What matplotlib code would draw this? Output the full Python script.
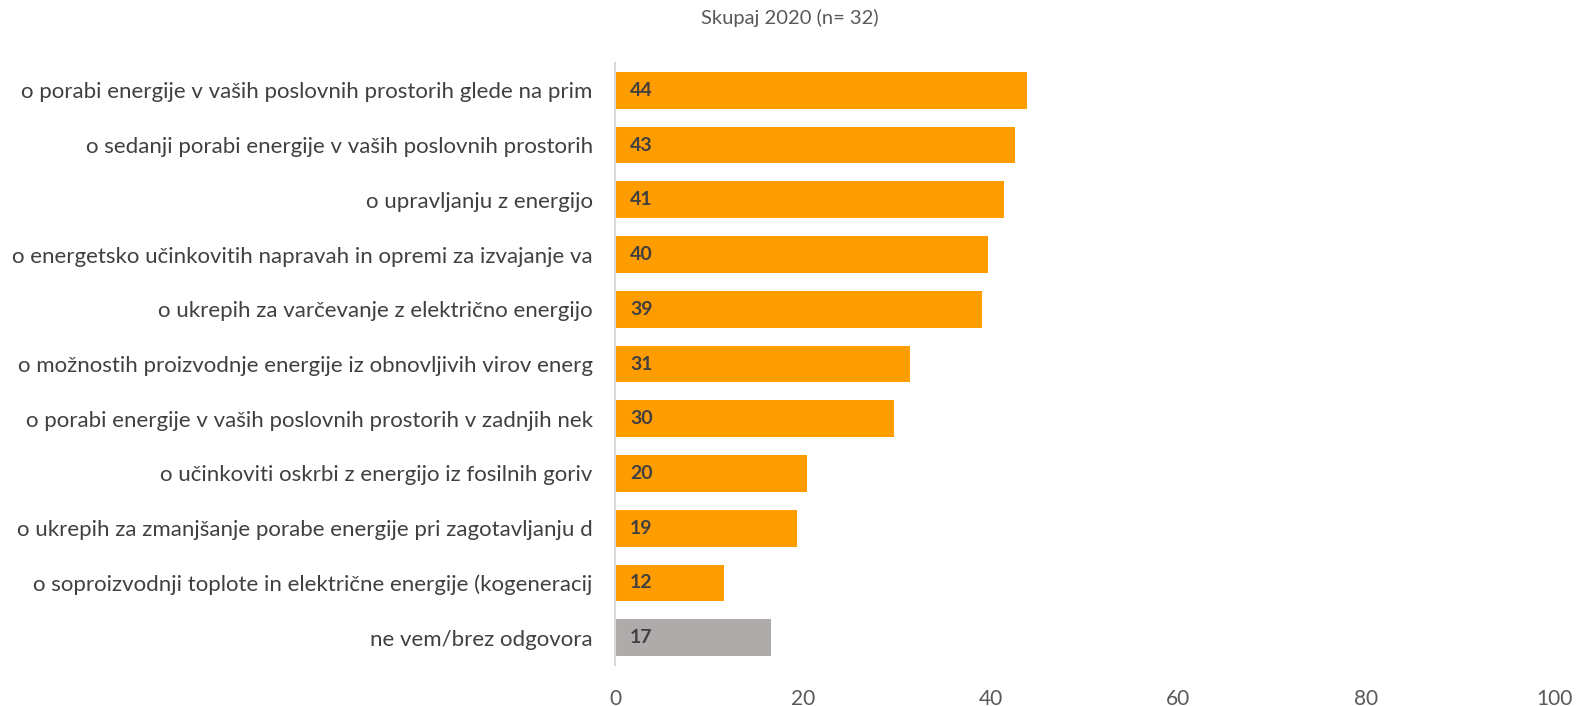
import matplotlib
matplotlib.use("Agg")
import matplotlib.pyplot as plt

categories = [
    "o porabi energije v vaših poslovnih prostorih glede na prim",
    "o sedanji porabi energije v vaših poslovnih prostorih",
    "o upravljanju z energijo",
    "o energetsko učinkovitih napravah in opremi za izvajanje va",
    "o ukrepih za varčevanje z električno energijo",
    "o možnostih proizvodnje energije iz obnovljivih virov energ",
    "o porabi energije v vaših poslovnih prostorih v zadnjih nek",
    "o učinkoviti oskrbi z energijo iz fosilnih goriv",
    "o ukrepih za zmanjšanje porabe energije pri zagotavljanju d",
    "o soproizvodnji toplote in električne energije (kogeneracij",
    "ne vem/brez odgovora",
]
values = [43.9, 42.6, 41.4, 39.7, 39.1, 31.4, 29.7, 20.4, 19.4, 11.6, 16.6]
value_labels = ["44", "43", "41", "40", "39", "31", "30", "20", "19", "12", "17"]
xticks = [0, 20, 40, 60, 80, 100]
title = "Skupaj 2020 (n= 32)"

ORANGE = "#FF9C00"
GREY = "#AFABAB"
colors = [ORANGE] * 10 + [GREY]

plt.rcParams["font.family"] = ["Lato", "DejaVu Sans"]

fig = plt.figure(figsize=(15.8, 7.06), dpi=100)
ax = fig.add_axes([615 / 1580, 1 - 665 / 706, (1554 - 615) / 1580, (665 - 63) / 706])

ypos = list(range(len(categories)))
ax.barh(ypos, values, height=0.67, color=colors, zorder=2)
ax.set_ylim(len(categories) - 0.5, -0.5)
ax.set_xlim(0, 100)
ax.set_yticks(ypos)
ax.set_yticklabels(categories, fontsize=16, color="#404040")
ax.set_xticks(xticks)
ax.set_xticklabels([str(t) for t in xticks], fontsize=15, color="#595959")
ax.tick_params(axis="both", length=0)
ax.tick_params(axis="y", pad=16)
ax.tick_params(axis="x", pad=17)

for s in ["top", "right", "bottom"]:
    ax.spines[s].set_visible(False)
ax.spines["left"].set_color("#D9D9D9")
ax.spines["left"].set_linewidth(1.5)

for y, v, lab in zip(ypos, values, value_labels):
    ax.text(1.6, y, lab, va="center", ha="left", fontsize=14,
            fontweight="bold", color="#404040", zorder=3)

fig.text(0.5, 1 - 18 / 706, title, ha="center", va="center",
         fontsize=14.5, color="#595959")

fig.savefig("out.png", dpi=100)
